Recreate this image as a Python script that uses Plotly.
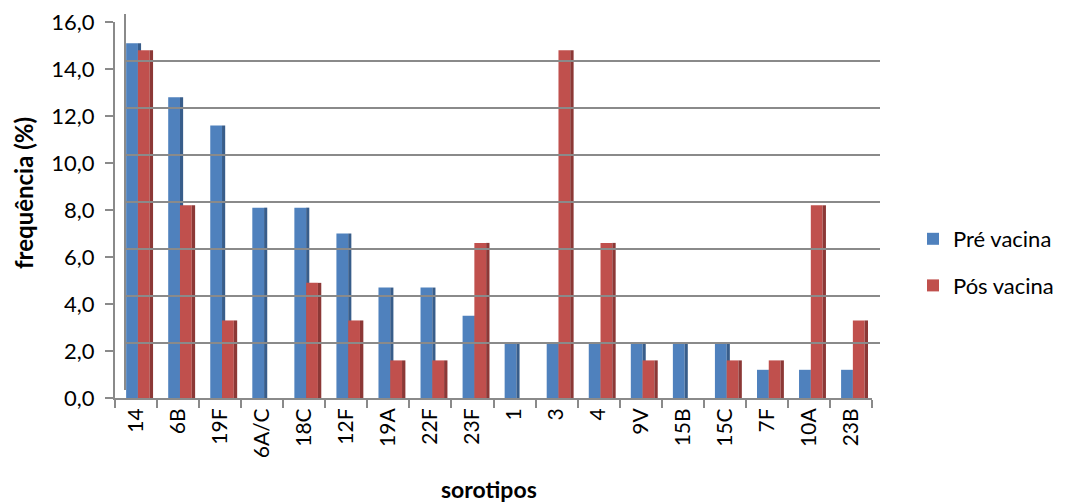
import plotly.graph_objects as go

# Serotype frequencies before and after vaccination
sorotipos = ["14", "6B", "19F", "6A/C", "18C", "12F", "19A", "22F", "23F",
             "1", "3", "4", "9V", "15B", "15C", "7F", "10A", "23B"]
pre_vacina = [15.1, 12.8, 11.6, 8.1, 8.1, 7.0, 4.7, 4.7, 3.5,
              2.3, 2.3, 2.3, 2.3, 2.3, 2.3, 1.2, 1.2, 1.2]
pos_vacina = [14.8, 8.2, 3.3, 0.0, 4.9, 3.3, 1.6, 1.6, 6.6,
              0.0, 14.8, 6.6, 1.6, 0.0, 1.6, 1.6, 8.2, 3.3]

W, H = 1068, 503
BLUE, BLUE_SIDE = "#4f81bd", "#385d8a"
RED, RED_SIDE = "#c0504d", "#8c3836"
GRID = "#8a8a8a"
FONT = "Lato"


def fx(px):
    return px / W


def fy(px):
    return 1 - px / H


# front plane (bars, axes) and back wall (gridlines), shifted up-right
front_x = [fx(115), fx(872)]
front_y = [fy(398), fy(22)]
back_x = [fx(125), fx(880)]
back_y = [fy(390), fy(14)]

fig = go.Figure()

# back wall with gridlines
fig.add_trace(go.Scatter(x=[None], y=[None], xaxis="x2", yaxis="y2",
                         showlegend=False, hoverinfo="skip"))

bar_specs = [
    (pre_vacina, BLUE, -0.235, 0.28, "Pré vacina", True),
    (pre_vacina, BLUE_SIDE, 0.045, 0.075, "Pré vacina", False),
    (pos_vacina, RED, 0.045, 0.28, "Pós vacina", True),
    (pos_vacina, RED_SIDE, 0.325, 0.08, "Pós vacina", False),
]
for vals, color, off, wid, name, show in bar_specs:
    fig.add_trace(go.Bar(
        x=sorotipos, y=vals, name=name, legendgroup=name, showlegend=show,
        marker=dict(color=color, line=dict(width=0)),
        offset=off, width=wid,
    ))

fig.update_layout(
    width=W, height=H,
    margin=dict(l=0, r=0, t=0, b=0),
    paper_bgcolor="white", plot_bgcolor="rgba(0,0,0,0)",
    barmode="overlay",
    separators=",.",
    font=dict(family=FONT, size=21, color="#000"),
    xaxis=dict(
        domain=front_x, type="category", range=[-0.5, 17.5],
        automargin=False,
        showline=True, linecolor=GRID, linewidth=2,
        ticks="outside", tickson="boundaries", ticklen=8, tickcolor=GRID,
        tickwidth=2, tickangle=-90, tickfont=dict(size=21, color="#000"),
        showgrid=False, zeroline=False,
    ),
    yaxis=dict(
        domain=front_y, range=[0, 16], dtick=2, tickformat=".1f",
        automargin=False,
        showline=True, linecolor=GRID, linewidth=2,
        ticks="outside", ticklen=8, tickcolor=GRID, tickwidth=2,
        ticklabelstandoff=6,
        tickfont=dict(size=22, color="#000"),
        showgrid=False, zeroline=False,
    ),
    xaxis2=dict(domain=back_x, anchor="y2", range=[0, 1], visible=False),
    yaxis2=dict(
        domain=back_y, anchor="x2", range=[0, 16], dtick=2,
        showgrid=True, gridcolor=GRID, gridwidth=2,
        showticklabels=False, zeroline=False, showline=False, ticks="",
    ),
    legend=dict(
        x=fx(913), y=fy(218), xanchor="left", yanchor="top",
        font=dict(size=22, color="#000"), tracegroupgap=15,
        traceorder="grouped", itemwidth=30,
    ),
    annotations=[
        dict(text="<b>sorotipos</b>", xref="paper", yref="paper",
             x=fx(489), y=fy(489), xanchor="center", yanchor="middle",
             showarrow=False, font=dict(size=23, color="#000")),
        dict(text="<b>frequência (%)</b>", xref="paper", yref="paper",
             x=fx(23), y=fy(193), xanchor="center", yanchor="middle",
             showarrow=False, textangle=-90,
             font=dict(size=24, color="#000")),
    ],
)

# left edge of the back wall
fig.add_shape(type="line", xref="paper", yref="paper",
              x0=back_x[0], x1=back_x[0], y0=back_y[0], y1=back_y[1],
              line=dict(color=GRID, width=2), layer="below")

fig.write_html("out.html")
